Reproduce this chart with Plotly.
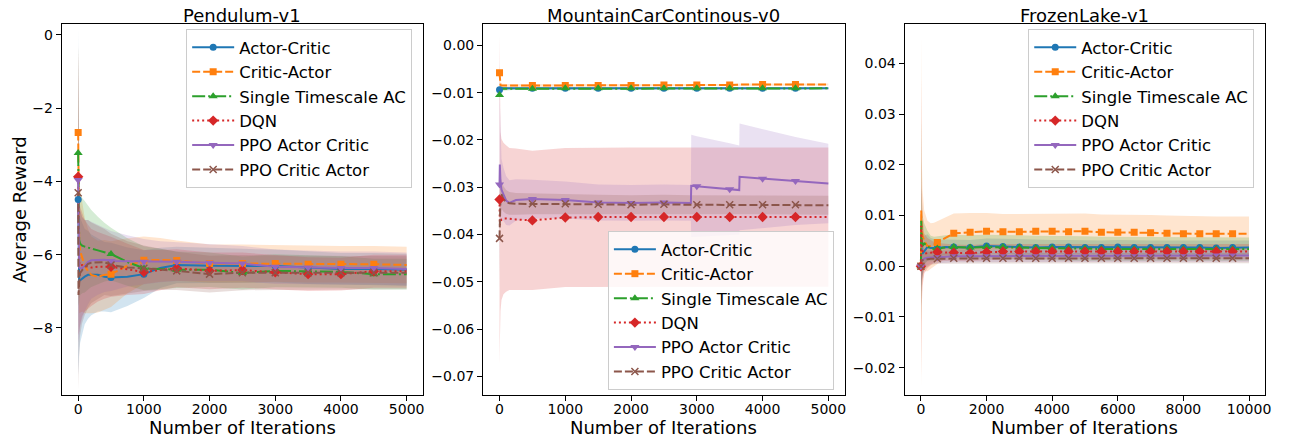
import plotly.graph_objects as go

# ---------------- labels / styles ----------------
LABELS = ["Actor-Critic", "Critic-Actor", "Single Timescale AC", "DQN",
          "PPO Actor Critic", "PPO Critic Actor"]
COLORS = ["#1f77b4", "#ff7f0e", "#2ca02c", "#d62728", "#9467bd", "#8c564b"]
FILLS = ["rgba(31,119,180,0.2)", "rgba(255,127,14,0.2)", "rgba(44,160,44,0.2)",
         "rgba(214,39,40,0.2)", "rgba(148,103,189,0.2)", "rgba(140,86,75,0.2)"]
DASHES = ["solid", "8px,3px", "13px,3px,2px,3px", "2px,3px", "solid", "8px,3px"]
SYMBOLS = ["circle", "square", "triangle-up", "diamond", "triangle-down", "x-thin"]
MSIZES = [7, 7, 8, 8, 8, 7]

TITLES = ["Pendulum-v1", "MountainCarContinous-v0", "FrozenLake-v1"]

# ---------------- Pendulum-v1 ----------------
pend_x = [0, 5, 15, 30, 60, 100, 150, 200, 300, 400, 500, 750, 1000, 1250, 1500,
          2000, 2500, 3000, 3500, 4000, 4500, 5000]
pend_ac = [-4.49, -6.5, -6.7, -6.7, -6.65, -6.6, -6.55, -6.55, -6.55, -6.6, -6.62, -6.6,
           -6.53, -6.36, -6.28, -6.3, -6.3, -6.31, -6.35, -6.39, -6.39, -6.41]
pend_ca = [-2.66, -4.5, -5.6, -5.9, -6.05, -6.3, -6.45, -6.55, -6.6, -6.55, -6.53, -6.3,
           -6.15, -6.14, -6.16, -6.24, -6.24, -6.24, -6.26, -6.26, -6.26, -6.28]
pend_st = [-3.22, -5.2, -5.6, -5.7, -5.75, -5.78, -5.8, -5.83, -5.88, -5.93, -5.98, -6.2,
           -6.37, -6.39, -6.41, -6.41, -6.5, -6.44, -6.45, -6.47, -6.53, -6.53]
pend_dqn = [-3.87, -5.8, -6.2, -6.3, -6.28, -6.3, -6.33, -6.35, -6.33, -6.32, -6.33, -6.4,
            -6.47, -6.42, -6.37, -6.44, -6.42, -6.48, -6.53, -6.53, -6.45, -6.45]
pend_ppo_ac = [-3.96, -6.0, -6.35, -6.37, -6.37, -6.3, -6.2, -6.15, -6.14, -6.14, -6.17, -6.17,
               -6.19, -6.19, -6.19, -6.22, -6.24, -6.33, -6.35, -6.36, -6.36, -6.39]
pend_ppo_ca = [-4.31, -7.1, -6.8, -6.5, -6.42, -6.35, -6.25, -6.22, -6.2, -6.2, -6.28, -6.35,
               -6.37, -6.4, -6.44, -6.53, -6.49, -6.49, -6.49, -6.49, -6.49, -6.49]
pend_ac_sd = [4.8, 2.6, 2.0, 1.7, 1.5, 1.3, 1.2, 1.1, 1.0, 0.95, 0.95, 0.8, 0.65, 0.55, 0.5,
              0.48, 0.46, 0.45, 0.45, 0.44, 0.44, 0.44]
pend_ca_sd = [2.5, 2.4, 2.0, 1.7, 1.5, 1.3, 1.15, 1.05, 0.98, 0.95, 0.9, 0.75, 0.65, 0.6, 0.55,
              0.52, 0.52, 0.5, 0.5, 0.5, 0.5, 0.5]
pend_st_sd = [3.0, 2.2, 1.7, 1.4, 1.3, 1.25, 1.15, 1.05, 0.92, 0.8, 0.72, 0.65, 0.6, 0.55, 0.5,
              0.47, 0.45, 0.45, 0.44, 0.43, 0.42, 0.42]
pend_dqn_sd = [3.5, 2.4, 1.9, 1.6, 1.4, 1.25, 1.15, 1.05, 0.95, 0.88, 0.82, 0.7, 0.6, 0.55, 0.52,
               0.5, 0.48, 0.47, 0.46, 0.45, 0.45, 0.45]
pend_ppo_ac_sd = [3.8, 2.4, 1.9, 1.6, 1.4, 1.25, 1.15, 1.05, 0.95, 0.88, 0.82, 0.7, 0.62, 0.56,
                  0.53, 0.5, 0.48, 0.47, 0.46, 0.45, 0.45, 0.45]
pend_ppo_ca_sd = [4.1, 2.6, 2.0, 1.7, 1.45, 1.3, 1.2, 1.1, 1.0, 0.9, 0.85, 0.72, 0.62, 0.56,
                  0.52, 0.5, 0.48, 0.47, 0.46, 0.45, 0.45, 0.45]

# ---------------- MountainCarContinous-v0 ----------------
mc_x = [0, 5, 15, 30, 60, 100, 150, 250, 500, 1000, 1500, 2000, 2500, 2910, 2915, 3000,
        3500, 3645, 3650, 4000, 4500, 5000]
mc_ac = [-0.0094, -0.0092, -0.0091, -0.0091, -0.0091, -0.0091, -0.0091, -0.0091, -0.0091,
         -0.0091, -0.0091, -0.0091, -0.0091, -0.0091, -0.0091, -0.0091, -0.0091, -0.0091,
         -0.0091, -0.0091, -0.0091, -0.0091]
mc_ca = [-0.0058, -0.0080, -0.0084, -0.0085, -0.0085, -0.0085, -0.0085, -0.0085, -0.0085,
         -0.0085, -0.0085, -0.0085, -0.0084, -0.0084, -0.0084, -0.0084, -0.0084, -0.0083,
         -0.0083, -0.0083, -0.0083, -0.0083]
mc_st = [-0.0105, -0.0095, -0.0092, -0.0092, -0.0092, -0.0092, -0.0092, -0.0092, -0.0092,
         -0.0091, -0.0091, -0.0091, -0.0091, -0.0091, -0.0091, -0.0091, -0.0091, -0.0091,
         -0.0091, -0.0091, -0.0091, -0.0091]
mc_dqn = [-0.0326, -0.0380, -0.0372, -0.0368, -0.0366, -0.0366, -0.0367, -0.0368, -0.0370,
          -0.0364, -0.0363, -0.0363, -0.0363, -0.0363, -0.0363, -0.0363, -0.0363, -0.0363,
          -0.0363, -0.0363, -0.0363, -0.0363]
mc_ppo_ac = [-0.0294, -0.0252, -0.0290, -0.0305, -0.0315, -0.0328, -0.0333, -0.0327, -0.0325,
             -0.0327, -0.0332, -0.0333, -0.0332, -0.0333, -0.0297, -0.0298, -0.0304, -0.0306,
             -0.0278, -0.0282, -0.0287, -0.0292]
mc_ppo_ca = [-0.0408, -0.0340, -0.0318, -0.0315, -0.0325, -0.0331, -0.0334, -0.0335, -0.0335,
             -0.0335, -0.0336, -0.0337, -0.0336, -0.0337, -0.0337, -0.0337, -0.0337, -0.0337,
             -0.0337, -0.0337, -0.0337, -0.0338]
mc_ac_sd = [0.0008, 0.0005, 0.0004, 0.0003, 0.0003, 0.0003, 0.0002, 0.0002, 0.0002, 0.0002,
            0.0002, 0.0002, 0.0002, 0.0002, 0.0002, 0.0002, 0.0002, 0.0002, 0.0002, 0.0002,
            0.0002, 0.0002]
mc_ca_sd = [0.0015, 0.0006, 0.0005, 0.0004, 0.0003, 0.0003, 0.0003, 0.0003, 0.0002, 0.0002,
            0.0002, 0.0002, 0.0002, 0.0002, 0.0002, 0.0002, 0.0002, 0.0002, 0.0002, 0.0002,
            0.0002, 0.0002]
mc_st_sd = [0.0015, 0.0008, 0.0006, 0.0005, 0.0004, 0.0003, 0.0003, 0.0002, 0.0002, 0.0002,
            0.0002, 0.0002, 0.0002, 0.0002, 0.0002, 0.0002, 0.0002, 0.0002, 0.0002, 0.0002,
            0.0002, 0.0002]
mc_dqn_sd = [0.035, 0.025, 0.019, 0.017, 0.016, 0.0155, 0.015, 0.015, 0.0147, 0.0147, 0.0147,
             0.0147, 0.0147, 0.0147, 0.0147, 0.0147, 0.0147, 0.0147, 0.0147, 0.0147, 0.0147,
             0.0147]
mc_ppo_ac_sd = [0.02, 0.012, 0.008, 0.0065, 0.0056, 0.0052, 0.0048, 0.0044, 0.0041, 0.0039,
                0.0038, 0.0038, 0.0038, 0.0038, 0.0108, 0.0106, 0.0097, 0.0094, 0.0113, 0.0105,
                0.0093, 0.0084]
mc_ppo_ca_sd = [0.012, 0.006, 0.004, 0.003, 0.0027, 0.0025, 0.0024, 0.0023, 0.0022, 0.0021,
                0.002, 0.002, 0.002, 0.002, 0.002, 0.002, 0.002, 0.002, 0.002, 0.002, 0.002,
                0.002]

# ---------------- FrozenLake-v1 ----------------
fl_x = [0, 10, 25, 50, 100, 200, 300, 400, 500, 750, 1000, 1500, 2000, 2500, 3000, 3500, 4000,
        4500, 5000, 5500, 6000, 6500, 7000, 7500, 8000, 8500, 9000, 9500, 10000]
fl_ac = [0.0, 0.0040, 0.0030, 0.0025, 0.0030, 0.0038, 0.0036, 0.0036, 0.0036, 0.0038, 0.0038,
         0.0037, 0.0040, 0.0039, 0.0038, 0.0037, 0.0038, 0.0038, 0.0037, 0.0037, 0.0038, 0.0037,
         0.0037, 0.0037, 0.0037, 0.0037, 0.0036, 0.0037, 0.0037]
fl_ca = [0.0, 0.0110, 0.0075, 0.0060, 0.0050, 0.0040, 0.0040, 0.0043, 0.0047, 0.0056, 0.0065,
         0.0067, 0.0069, 0.0068, 0.0068, 0.0069, 0.0069, 0.0068, 0.0069, 0.0067, 0.0067, 0.0067,
         0.0066, 0.0065, 0.0064, 0.0064, 0.0064, 0.0064, 0.0064]
fl_st = [0.0, 0.0090, 0.0050, 0.0040, 0.0045, 0.0040, 0.0035, 0.0034, 0.0035, 0.0037, 0.0038,
         0.0037, 0.0038, 0.0038, 0.0037, 0.0036, 0.0036, 0.0035, 0.0035, 0.0034, 0.0034, 0.0034,
         0.0034, 0.0034, 0.0034, 0.0034, 0.0034, 0.0034, 0.0034]
fl_dqn = [0.0, 0.0080, 0.0040, 0.0030, 0.0025, 0.0026, 0.0027, 0.0028, 0.0028, 0.0027, 0.0027,
          0.0026, 0.0028, 0.0029, 0.0029, 0.0029, 0.0029, 0.0029, 0.0029, 0.0029, 0.0029, 0.0029,
          0.0029, 0.0029, 0.0029, 0.0029, 0.0029, 0.0029, 0.0029]
fl_ppo_ac = [0.0, 0.0005, 0.0010, 0.0012, 0.0015, 0.0017, 0.0018, 0.0018, 0.0018, 0.0019,
             0.0020, 0.0020, 0.0020, 0.0020, 0.0020, 0.0020, 0.0020, 0.0020, 0.0020, 0.0020,
             0.0020, 0.0020, 0.0020, 0.0020, 0.0020, 0.0020, 0.0021, 0.0021, 0.0021]
fl_ppo_ca = [0.0, 0.0010, 0.0012, 0.0012, 0.0013, 0.0014, 0.0015, 0.0015, 0.0015, 0.0016,
             0.0016, 0.0015, 0.0016, 0.0016, 0.0016, 0.0016, 0.0016, 0.0016, 0.0016, 0.0016,
             0.0016, 0.0016, 0.0016, 0.0016, 0.0016, 0.0016, 0.0016, 0.0016, 0.0016]
fl_ac_sd = [0.0, 0.012, 0.006, 0.004, 0.003, 0.0025, 0.002, 0.0018, 0.0016, 0.0015, 0.0015,
            0.0015, 0.0015, 0.0015, 0.0015, 0.0015, 0.0014, 0.0014, 0.0014, 0.0014, 0.0014,
            0.0014, 0.0014, 0.0014, 0.0014, 0.0014, 0.0014, 0.0014, 0.0014]
fl_ca_sd = [0.0, 0.035, 0.014, 0.009, 0.006, 0.005, 0.0045, 0.0043, 0.0042, 0.004, 0.0039,
            0.0038, 0.0036, 0.0035, 0.0035, 0.0035, 0.0035, 0.0035, 0.0035, 0.0035, 0.0035,
            0.0035, 0.0035, 0.0035, 0.0035, 0.0035, 0.0034, 0.0034, 0.0034]
fl_st_sd = [0.0, 0.02, 0.009, 0.006, 0.004, 0.003, 0.0025, 0.0024, 0.0024, 0.0024, 0.0024,
            0.0024, 0.0024, 0.0024, 0.0024, 0.0024, 0.0024, 0.0024, 0.0024, 0.0024, 0.0024,
            0.0024, 0.0024, 0.0024, 0.0024, 0.0024, 0.0023, 0.0023, 0.0023]
fl_dqn_sd = [0.0, 0.03, 0.012, 0.007, 0.004, 0.003, 0.0025, 0.002, 0.0018, 0.0017, 0.0016,
             0.0016, 0.0016, 0.0015, 0.0015, 0.0015, 0.0015, 0.0015, 0.0015, 0.0015, 0.0015,
             0.0015, 0.0015, 0.0015, 0.0015, 0.0015, 0.0015, 0.0015, 0.0015]
fl_ppo_ac_sd = [0.0, 0.006, 0.004, 0.003, 0.002, 0.0015, 0.0013, 0.0012, 0.0012, 0.0012,
                0.0012, 0.0012, 0.0012, 0.0012, 0.0012, 0.0012, 0.0012, 0.0012, 0.0012, 0.0012,
                0.0012, 0.0012, 0.0012, 0.0012, 0.0012, 0.0012, 0.0012, 0.0012, 0.0012]
fl_ppo_ca_sd = [0.0, 0.006, 0.004, 0.003, 0.002, 0.0015, 0.0012, 0.0011, 0.001, 0.001, 0.001,
                0.001, 0.001, 0.001, 0.001, 0.001, 0.001, 0.001, 0.001, 0.001, 0.001, 0.001,
                0.001, 0.001, 0.001, 0.001, 0.001, 0.001, 0.001]

panels = [
    dict(x=pend_x, means=[pend_ac, pend_ca, pend_st, pend_dqn, pend_ppo_ac, pend_ppo_ca],
         sds=[pend_ac_sd, pend_ca_sd, pend_st_sd, pend_dqn_sd, pend_ppo_ac_sd, pend_ppo_ca_sd],
         xa="x", ya="y", leg="legend", step=500),
    dict(x=mc_x, means=[mc_ac, mc_ca, mc_st, mc_dqn, mc_ppo_ac, mc_ppo_ca],
         sds=[mc_ac_sd, mc_ca_sd, mc_st_sd, mc_dqn_sd, mc_ppo_ac_sd, mc_ppo_ca_sd],
         xa="x2", ya="y2", leg="legend2", step=500),
    dict(x=fl_x, means=[fl_ac, fl_ca, fl_st, fl_dqn, fl_ppo_ac, fl_ppo_ca],
         sds=[fl_ac_sd, fl_ca_sd, fl_st_sd, fl_dqn_sd, fl_ppo_ac_sd, fl_ppo_ca_sd],
         xa="x3", ya="y3", leg="legend3", step=500),
]

fig = go.Figure()

for p in panels:
    xs = p["x"]
    for i in range(6):
        m, s = p["means"][i], p["sds"][i]
        hi = [a + b for a, b in zip(m, s)]
        lo = [a - b for a, b in zip(m, s)]
        fig.add_trace(go.Scatter(
            x=xs + xs[::-1], y=hi + lo[::-1], fill="toself", fillcolor=FILLS[i],
            line=dict(width=0), mode="lines", hoverinfo="skip", showlegend=False,
            xaxis=p["xa"], yaxis=p["ya"]))
    for i in range(6):
        fig.add_trace(go.Scatter(
            x=xs, y=p["means"][i], mode="lines",
            line=dict(color=COLORS[i], width=2, dash=DASHES[i]),
            showlegend=False, xaxis=p["xa"], yaxis=p["ya"]))
    for i in range(6):
        mx = [x for x in xs if x % p["step"] == 0 and x < xs[-1]]
        my = [y for x, y in zip(xs, p["means"][i]) if x % p["step"] == 0 and x < xs[-1]]
        fig.add_trace(go.Scatter(
            x=mx, y=my, mode="markers",
            marker=dict(symbol=SYMBOLS[i], size=MSIZES[i], color=COLORS[i],
                        line=dict(width=1.5 if SYMBOLS[i] == "x-thin" else 0, color=COLORS[i])),
            showlegend=False, xaxis=p["xa"], yaxis=p["ya"]))
    for i in range(6):
        fig.add_trace(go.Scatter(
            x=[None], y=[None], mode="lines+markers", name=LABELS[i],
            line=dict(color=COLORS[i], width=2, dash=DASHES[i]),
            marker=dict(symbol=SYMBOLS[i], size=MSIZES[i], color=COLORS[i],
                        line=dict(width=1.5 if SYMBOLS[i] == "x-thin" else 0, color=COLORS[i])),
            legend=p["leg"], xaxis=p["xa"], yaxis=p["ya"]))

W, H = 1290, 440
OX, OY = 8, 8          # page (body) margin offset of the plot div
FONT = "DejaVu Sans"


def px(p):
    return (p - OX) / W


def py(p):
    return 1 - (p - OY) / H


y_dom = [py(395), py(24)]
x_doms = [[px(62), px(425)], [px(485.3), px(848.7)], [px(908.7), px(1271.3)]]


def xaxis(dom, rng, dtick, anchor):
    return dict(domain=dom, range=rng, dtick=dtick, tick0=0, tickformat="d", anchor=anchor,
                showline=True, mirror=True, linecolor="black", linewidth=1, ticks="outside",
                ticklen=5, tickcolor="black", showgrid=False, zeroline=False,
                ticklabelstandoff=-4,
                tickfont=dict(family=FONT, size=14, color="black"))


def yaxis(rng, dtick, fmt, anchor):
    return dict(domain=y_dom, range=rng, dtick=dtick, tick0=0, tickformat=fmt, anchor=anchor,
                showline=True, mirror=True, linecolor="black", linewidth=1, ticks="outside",
                ticklen=5, tickcolor="black", showgrid=False, zeroline=False,
                tickfont=dict(family=FONT, size=14, color="black"))


def legend(x, y):
    return dict(x=x, y=y, xanchor="left", yanchor="top", bgcolor="rgba(255,255,255,0.8)",
                bordercolor="#cccccc", borderwidth=1, tracegroupgap=3, itemwidth=42,
                font=dict(family=FONT, size=16.5, color="black"))


annotations = []
for dom, t in zip(x_doms, TITLES):
    cx = (dom[0] + dom[1]) / 2
    annotations.append(dict(text=t, x=cx, y=py(15.5), xref="paper", yref="paper",
                            showarrow=False, xanchor="center", yanchor="middle",
                            font=dict(family=FONT, size=18, color="black")))
    annotations.append(dict(text="Number of Iterations", x=cx, y=py(427), xref="paper",
                            yref="paper", showarrow=False, xanchor="center", yanchor="middle",
                            font=dict(family=FONT, size=18, color="black")))
annotations.append(dict(text="Average Reward", x=px(19.5), y=py(209.5), xref="paper",
                        yref="paper", showarrow=False, textangle=-90, xanchor="center",
                        yanchor="middle", font=dict(family=FONT, size=18, color="black")))

fig.update_layout(
    width=W, height=H, margin=dict(l=0, r=0, t=0, b=0),
    paper_bgcolor="white", plot_bgcolor="white", showlegend=True,
    xaxis=xaxis(x_doms[0], [-250, 5250], 1000, "y"),
    yaxis=yaxis([-9.83, 0.30], 2, "d", "x"),
    xaxis2=xaxis(x_doms[1], [-250, 5250], 1000, "y2"),
    yaxis2=yaxis([-0.0739, 0.0045], 0.01, ".2f", "x2"),
    xaxis3=xaxis(x_doms[2], [-500, 10500], 2000, "y3"),
    yaxis3=yaxis([-0.0254, 0.0478], 0.01, ".2f", "x3"),
    legend=legend(px(187), py(29)),
    legend2=legend(px(610.7), py(231)),
    legend3=legend(px(1033), py(29)),
    annotations=annotations,
)

fig.write_html("out.html")
